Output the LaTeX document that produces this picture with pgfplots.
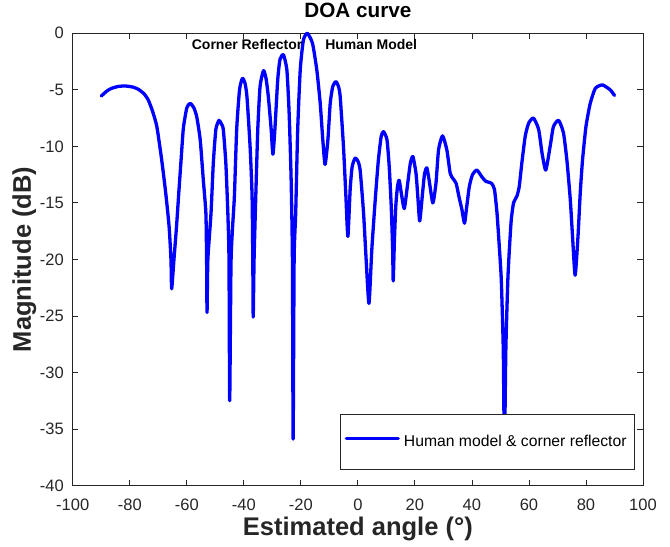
\documentclass[border=0pt]{standalone}
\usepackage{pgfplots}
\pgfplotsset{compat=1.18}
\usepackage{fontspec}
\setmainfont{Liberation Sans}
\definecolor{axisgray}{RGB}{38,38,38}
\begin{document}
\begin{tikzpicture}
\begin{axis}[
  scale only axis, width=570pt, height=452pt,
  xmin=-100, xmax=100, ymin=-40, ymax=0,
  xtick={-100,-80,-60,-40,-20,0,20,40,60,80,100},
  xticklabels={-100,-80,-60,-40,-20,0,20,40,60,80,100},
  ytick={-40,-35,-30,-25,-20,-15,-10,-5,0},
  yticklabels={-40,-35,-30,-25,-20,-15,-10,-5,0},
  tick align=inside, major tick length=5.7pt,
  axis line style={draw=axisgray, line width=0.8pt},
  every tick/.style={draw=axisgray, line width=0.8pt},
  xticklabel style={font=\fontsize{16.5}{19}\selectfont, text=axisgray, inner sep=0pt, anchor=north, yshift=-13.3pt},
  yticklabel style={font=\fontsize{16.5}{19}\selectfont, text=axisgray, inner sep=0pt, anchor=east, xshift=-8.7pt},
  title={DOA curve},
  title style={at={(axis description cs:0.5,1.022)}, anchor=base, inner sep=0pt, font=\fontsize{20.7}{24}\selectfont\bfseries},
  xlabel={Estimated angle (°)},
  xlabel style={at={(axis description cs:0.5,-0.1105)}, anchor=base, inner sep=0pt, font=\fontsize{25.5}{29}\selectfont\bfseries, text=axisgray},
  ylabel={Magnitude (dB)},
  ylabel style={at={(axis description cs:-0.0732,0.5)}, anchor=base, inner sep=0pt, font=\fontsize{25.5}{29}\selectfont\bfseries, text=axisgray},
  clip=false,
  legend style={at={(axis cs:97.2,-38.6)}, anchor=south east, draw=axisgray, line width=0.8pt, fill=white,
    inner xsep=4pt, inner ysep=21pt, font=\fontsize{15.7}{18}\selectfont, nodes={inner xsep=4pt, inner ysep=0pt}},
  legend cell align=left,
  legend image code/.code={\draw[#1] (0pt,0.6ex) -- (52pt,0.6ex);},
]
\addplot[color=blue, line width=3.3pt, line join=round, line cap=round, smooth, tension=0.35] coordinates {
(-90.0,-5.55) (-88.0,-5.1) (-86.3,-4.86) (-84.0,-4.7) (-81.6,-4.66) (-79.0,-4.75) (-77.0,-4.95)
(-75.0,-5.35) (-73.5,-5.9) (-72.0,-6.9) (-70.5,-8.25) (-68.8,-11.2) (-67.4,-14.1) (-66.2,-17.1)
(-65.55,-20.0) (-65.3,-22.6) (-64.5,-20.0) (-63.6,-17.1) (-62.8,-14.1) (-62.0,-11.2) (-61.2,-8.4)
(-60.0,-6.6) (-58.8,-6.2) (-57.5,-6.6) (-56.5,-7.4) (-55.3,-9.4) (-54.2,-13.0) (-53.3,-15.9)
(-53.05,-20.0) (-52.9,-24.7) (-52.6,-20.0) (-51.5,-15.9) (-50.7,-11.5) (-49.8,-8.5) (-48.7,-7.7)
(-47.9,-8.0) (-47.2,-8.5) (-46.3,-11.5) (-45.6,-15.9) (-45.2,-20.0) (-44.95,-32.5) (-44.5,-20.5)
(-44.0,-17.4) (-43.3,-14.4) (-42.5,-8.5) (-41.5,-5.0) (-40.5,-3.98) (-39.6,-4.4) (-38.9,-5.6)
(-37.8,-10.0) (-37.1,-14.4) (-36.85,-20.0) (-36.7,-25.1) (-36.4,-20.0) (-35.8,-14.4) (-35.1,-8.5)
(-34.3,-4.7) (-33.1,-3.3) (-32.2,-4.0) (-31.4,-5.6) (-30.4,-8.5) (-29.8,-10.7) (-29.1,-8.5)
(-28.1,-4.1) (-27.3,-2.3) (-26.1,-1.9) (-24.9,-3.24) (-24.1,-7.07) (-23.4,-12.96) (-22.95,-20.0)
(-22.7,-35.9) (-22.35,-20.0) (-21.8,-15.9) (-21.1,-8.5) (-20.2,-3.2) (-19.1,-0.6) (-17.7,0.0)
(-15.9,-0.9) (-14.4,-3.24) (-13.2,-6.2) (-12.3,-9.4) (-11.5,-11.6) (-10.5,-9.4) (-9.7,-6.2)
(-8.8,-4.7) (-7.7,-4.27) (-6.8,-4.7) (-6.2,-5.6) (-5.05,-10.0) (-4.2,-14.4) (-3.5,-17.97)
(-2.7,-13.8) (-2.0,-11.8) (-0.95,-11.04) (0.0,-11.3) (0.8,-12.1) (2.0,-15.9) (2.9,-20.0)
(3.9,-23.9) (4.9,-19.1) (6.1,-14.7) (7.2,-11.2) (8.2,-9.1) (9.0,-8.7) (10.2,-9.4) (11.0,-11.8)
(11.7,-15.3) (12.2,-19.1) (12.4,-21.9) (12.8,-18.5) (13.3,-15.3) (13.9,-13.55) (14.5,-13.0)
(15.4,-14.4) (16.3,-15.5) (17.5,-13.25) (18.4,-11.5) (19.3,-10.9) (20.4,-12.4) (21.1,-14.7)
(21.7,-16.6) (22.7,-14.1) (23.4,-12.4) (24.2,-11.9) (25.0,-13.0) (26.3,-15.0) (27.4,-13.25)
(28.3,-10.3) (29.7,-9.07) (31.2,-10.3) (32.4,-12.4) (33.5,-12.9) (34.5,-13.3) (35.5,-14.5)
(36.5,-15.6) (37.4,-16.8) (38.2,-15.3) (39.1,-13.55) (40.2,-12.5) (41.75,-12.1) (43.5,-12.7)
(44.9,-13.1) (46.8,-13.25) (47.9,-13.8) (48.8,-15.9) (49.6,-18.85) (50.3,-21.8) (51.0,-28.0)
(51.4,-37.0) (51.9,-28.0) (52.6,-21.8) (53.2,-18.85) (53.8,-16.5) (54.6,-15.0) (55.8,-14.4)
(56.6,-13.55) (57.5,-11.5) (58.7,-9.1) (59.9,-7.95) (61.6,-7.5) (63.4,-8.5) (64.6,-10.6)
(65.9,-12.1) (67.5,-9.9) (68.6,-8.25) (70.4,-7.7) (72.1,-8.8) (73.3,-11.2) (74.5,-14.7)
(75.3,-18.0) (76.2,-21.4) (77.2,-18.0) (78.0,-14.1) (78.8,-11.2) (80.0,-8.25) (81.5,-6.2)
(83.3,-4.86) (85.8,-4.57) (88.5,-5.0) (90.0,-5.5)
};
\addlegendentry{Human model \& corner reflector}
\node[anchor=base west, inner sep=0pt, font=\fontsize{14}{16}\selectfont\bfseries] at (axis cs:-58.3,-1.41) {Corner Reflector};
\node[anchor=base west, inner sep=0pt, font=\fontsize{14}{16}\selectfont\bfseries] at (axis cs:-11.5,-1.47) {Human Model};
\end{axis}
\path (current axis.south west) ++(-72.7pt,-61pt) rectangle ([shift={(27pt,33.3pt)}]current axis.north east);
\end{tikzpicture}
\end{document}
